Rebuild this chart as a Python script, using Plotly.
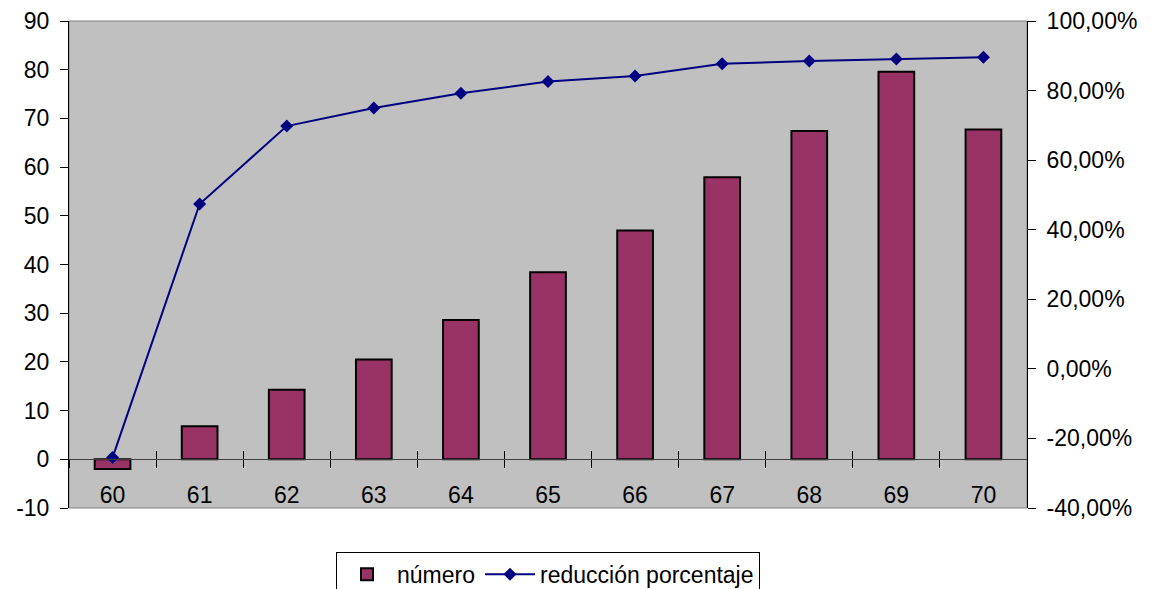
import plotly.graph_objects as go

# Data
edades = ["60", "61", "62", "63", "64", "65", "66", "67", "68", "69", "70"]
numero = [-2.0, 6.8, 14.3, 20.5, 28.6, 38.4, 47.0, 57.9, 67.4, 79.6, 67.7]
reduccion = [-0.255, 0.474, 0.698, 0.750, 0.792, 0.826, 0.842, 0.877, 0.885, 0.891, 0.896]

left_ticks = list(range(-10, 91, 10))
right_ticks = [-0.4, -0.2, 0.0, 0.2, 0.4, 0.6, 0.8, 1.0]

left_text = [str(v) for v in left_ticks]
right_text = [f"{v * 100:.2f}".replace(".", ",") + "%" for v in right_ticks]

FONT = "Liberation Sans, Arial, sans-serif"
font = dict(family=FONT, size=23, color="black")

fig = go.Figure()

fig.add_trace(go.Bar(
    x=edades, y=numero, name="número",
    marker=dict(color="#993366", line=dict(color="black", width=2)),
    xaxis="x", yaxis="y",
))
fig.add_trace(go.Scatter(
    x=edades, y=reduccion, name="reducción porcentaje",
    mode="lines+markers",
    line=dict(color="#000080", width=2),
    marker=dict(symbol="diamond", size=10, color="#000080"),
    xaxis="x", yaxis="y2",
))
# helper trace giving the overlay category axis its categories
fig.add_trace(go.Scatter(
    x=edades, y=[None] * len(edades), xaxis="x2", yaxis="y",
    showlegend=False, hoverinfo="skip", mode="lines",
))

tick_common = dict(ticklen=8, tickwidth=1, tickcolor="black")

fig.update_layout(
    width=1158, height=589,
    margin=dict(l=69, r=131, t=21, b=81, autoexpand=False),
    paper_bgcolor="white",
    plot_bgcolor="#C0C0C0",
    font=font,
    bargap=0.59,
    showlegend=True,
    legend=dict(
        orientation="h", x=0.5, xanchor="center",
        yref="container", y=0.063, yanchor="top",
        bordercolor="black", borderwidth=1, font=font, bgcolor="white",
        traceorder="normal", itemwidth=50,
    ),
    xaxis=dict(
        type="category", categoryorder="array", categoryarray=edades,
        range=[-0.5, 10.5], anchor="free", position=0.1,
        showline=True, linecolor="#404040", linewidth=1,
        ticks="outside", tickson="boundaries", ticklabelstandoff=15,
        showgrid=False, zeroline=False, tickfont=font, automargin=False,
        **tick_common,
    ),
    xaxis2=dict(
        type="category", categoryorder="array", categoryarray=edades,
        range=[-0.5, 10.5], overlaying="x", anchor="free", position=0.1,
        showline=False, ticks="inside", tickson="boundaries",
        showticklabels=False, showgrid=False, zeroline=False,
        automargin=False, **tick_common,
    ),
    yaxis=dict(
        range=[-10, 90], tickvals=left_ticks, ticktext=left_text, side="left",
        showline=True, linecolor="black", linewidth=1,
        ticks="outside", showgrid=False, zeroline=False, tickfont=font,
        ticklabelstandoff=6, automargin=False, **tick_common,
    ),
    yaxis3=dict(
        range=[-10, 90], tickvals=left_ticks, overlaying="y", side="left",
        ticks="inside", showticklabels=False, showgrid=False, zeroline=False,
        showline=False, automargin=False, **tick_common,
    ),
    yaxis2=dict(
        range=[-0.4, 1.0], tickvals=right_ticks, ticktext=right_text,
        overlaying="y", side="right", anchor="x",
        showline=True, linecolor="black", linewidth=1,
        ticks="outside", showgrid=False, zeroline=False, tickfont=font,
        ticklabelstandoff=6, automargin=False, **tick_common,
    ),
    yaxis4=dict(
        range=[-0.4, 1.0], tickvals=right_ticks, overlaying="y", side="right",
        ticks="inside", showticklabels=False, showgrid=False, zeroline=False,
        showline=False, automargin=False, **tick_common,
    ),
    shapes=[dict(
        type="rect", xref="paper", yref="paper", x0=0, x1=1, y0=0, y1=1,
        line=dict(color="#808080", width=1), layer="below",
    )],
)

fig.write_html("out.html")
